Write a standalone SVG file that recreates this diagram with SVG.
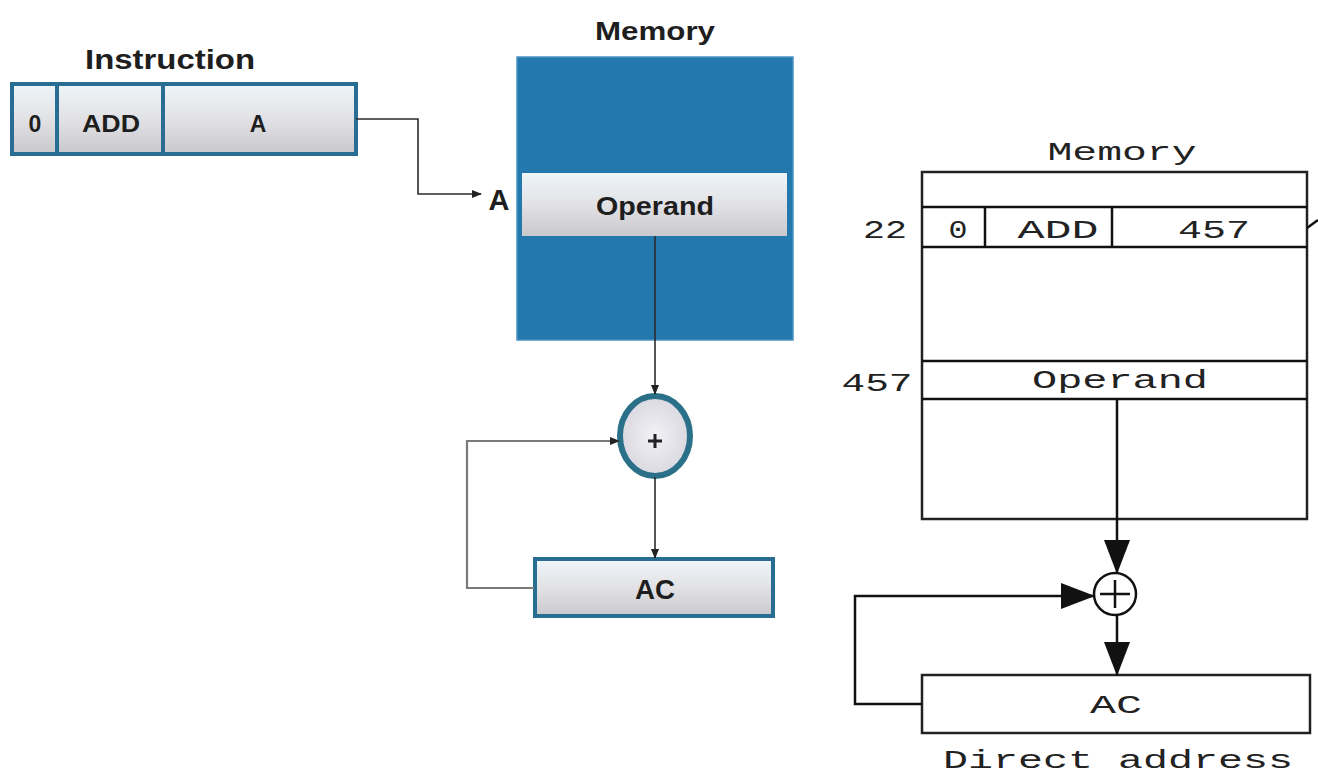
<svg xmlns="http://www.w3.org/2000/svg" width="1318" height="779" viewBox="0 0 1318 779">
<style>
  .ls { font-family: "Liberation Sans", Arial, sans-serif; font-weight: bold; fill: #1e1e1e; }
  .mono { font-family: "Liberation Mono", "Courier New", monospace; fill: #222; }
  .cell { fill: url(#cellGrad); stroke: #2a6d93; stroke-width: 4; }
  .rb { fill: #fff; stroke: #222; stroke-width: 2.5; }
  .thin { fill: none; stroke: #2b2b2b; stroke-width: 1.6; }
  .gray { fill: none; stroke: #7a7a7a; stroke-width: 2.2; }
  .blk { fill: none; stroke: #111; stroke-width: 2.5; }
</style>
<defs>
  <linearGradient id="cellGrad" x1="0" y1="0" x2="0" y2="1">
    <stop offset="0" stop-color="#eef5f8"/>
    <stop offset="0.5" stop-color="#e2e2e6"/>
    <stop offset="1" stop-color="#c9c9cd"/>
  </linearGradient>
  <radialGradient id="circGrad" cx="0.5" cy="0.5" r="0.6">
    <stop offset="0" stop-color="#f2f2f6"/>
    <stop offset="1" stop-color="#d5d3dc"/>
  </radialGradient>
  <marker id="arrS" markerUnits="userSpaceOnUse" markerWidth="10" markerHeight="8" refX="9" refY="4" orient="auto">
    <path d="M0,0 L10,4 L0,8 z" fill="#222"/>
  </marker>
  <marker id="arrB" markerUnits="userSpaceOnUse" markerWidth="34" markerHeight="26" refX="33" refY="13" orient="auto">
    <path d="M0,0 L34,13 L0,26 z" fill="#111"/>
  </marker>
</defs>
<rect width="1318" height="779" fill="#fff"/>

<!-- LEFT DIAGRAM -->
<g id="instruction">
  <text class="ls" x="170" y="69" font-size="28" text-anchor="middle" textLength="170" lengthAdjust="spacingAndGlyphs">Instruction</text>
  <rect class="cell" x="12" y="84" width="45" height="70"/>
  <rect class="cell" x="57" y="84" width="106" height="70"/>
  <rect class="cell" x="163" y="84" width="193" height="70"/>
  <text class="ls" x="35" y="132" font-size="23" text-anchor="middle">0</text>
  <text class="ls" x="111" y="132" font-size="23" text-anchor="middle" textLength="58" lengthAdjust="spacingAndGlyphs">ADD</text>
  <text class="ls" x="258" y="132" font-size="23" text-anchor="middle">A</text>
</g>

<g id="memory-left">
  <text class="ls" x="655" y="40" font-size="25" text-anchor="middle" textLength="120" lengthAdjust="spacingAndGlyphs">Memory</text>
  <rect x="517" y="57" width="276" height="283" fill="#2379ad" stroke="#4a93c2" stroke-width="1.5"/>
  <rect x="522" y="173" width="265" height="63" fill="url(#cellGrad)"/>
  <text class="ls" x="655" y="215" font-size="26" text-anchor="middle" textLength="118" lengthAdjust="spacingAndGlyphs">Operand</text>
  <text class="ls" x="499" y="210" font-size="29" text-anchor="middle">A</text>
</g>

<g id="adder-left">
  <ellipse cx="655" cy="436" rx="35" ry="40" fill="url(#circGrad)" stroke="#2a7089" stroke-width="6"/>
  <path d="M648,441 H662 M655,434 V448" stroke="#222" stroke-width="3"/>
</g>

<g id="ac-left">
  <rect class="cell" x="535" y="559" width="238" height="57" stroke-width="5"/>
  <text class="ls" x="655" y="599" font-size="27" text-anchor="middle" textLength="40" lengthAdjust="spacingAndGlyphs">AC</text>
</g>

<!-- RIGHT DIAGRAM -->
<g id="memory-right">
  <text class="mono" x="1122" y="160" font-size="26" text-anchor="middle" textLength="149" lengthAdjust="spacingAndGlyphs">Memory</text>
  <rect class="rb" x="922" y="172" width="385" height="347"/>
  <line class="blk" x1="922" y1="207" x2="1307" y2="207"/>
  <line class="blk" x1="922" y1="247" x2="1307" y2="247"/>
  <line class="blk" x1="985" y1="207" x2="985" y2="247"/>
  <line class="blk" x1="1112" y1="207" x2="1112" y2="247"/>
  <line class="blk" x1="922" y1="361" x2="1307" y2="361"/>
  <line class="blk" x1="922" y1="399" x2="1307" y2="399"/>
  <text class="mono" x="885" y="238" font-size="26" text-anchor="middle" textLength="44" lengthAdjust="spacingAndGlyphs">22</text>
  <text class="mono" x="958" y="238" font-size="26" text-anchor="middle" textLength="19" lengthAdjust="spacingAndGlyphs">0</text>
  <text class="mono" x="1058" y="238" font-size="26" text-anchor="middle" textLength="81" lengthAdjust="spacingAndGlyphs">ADD</text>
  <text class="mono" x="1214" y="238" font-size="26" text-anchor="middle" textLength="72" lengthAdjust="spacingAndGlyphs">457</text>
  <text class="mono" x="877" y="391" font-size="26" text-anchor="middle" textLength="71" lengthAdjust="spacingAndGlyphs">457</text>
  <text class="mono" x="1120" y="388" font-size="26" text-anchor="middle" textLength="176" lengthAdjust="spacingAndGlyphs">Operand</text>
</g>

<g id="adder-right">
  <circle cx="1115" cy="594" r="21" fill="#fff" stroke="#111" stroke-width="2.5"/>
  <path d="M1100,594 H1130 M1115,580 V608" stroke="#111" stroke-width="2.5"/>
</g>

<g id="ac-right">
  <rect class="rb" x="922" y="675" width="388" height="58"/>
  <text class="mono" x="1116" y="713" font-size="26" text-anchor="middle" textLength="52" lengthAdjust="spacingAndGlyphs">AC</text>
</g>

<text class="mono" x="1118" y="768" font-size="25" text-anchor="middle" textLength="350" lengthAdjust="spacingAndGlyphs">Direct address</text>

<g id="connectors">
  <path class="thin" d="M356,119 H418 V194 H481" marker-end="url(#arrS)"/>
  <path class="thin" d="M655,236 V394" marker-end="url(#arrS)"/>
  <path class="thin" d="M655,477 V558" marker-end="url(#arrS)"/>
  <path class="gray" d="M534,588 H467 V441 H619" marker-end="url(#arrS)"/>
  <path class="blk" d="M1117,399 V573" marker-end="url(#arrB)"/>
  <path class="blk" d="M1117,615 V675" marker-end="url(#arrB)"/>
  <path class="blk" d="M922,704 H855 V596 H1094" marker-end="url(#arrB)"/>
  <path class="blk" d="M1307,228 L1318,220" stroke-width="2"/>
</g>
</svg>
